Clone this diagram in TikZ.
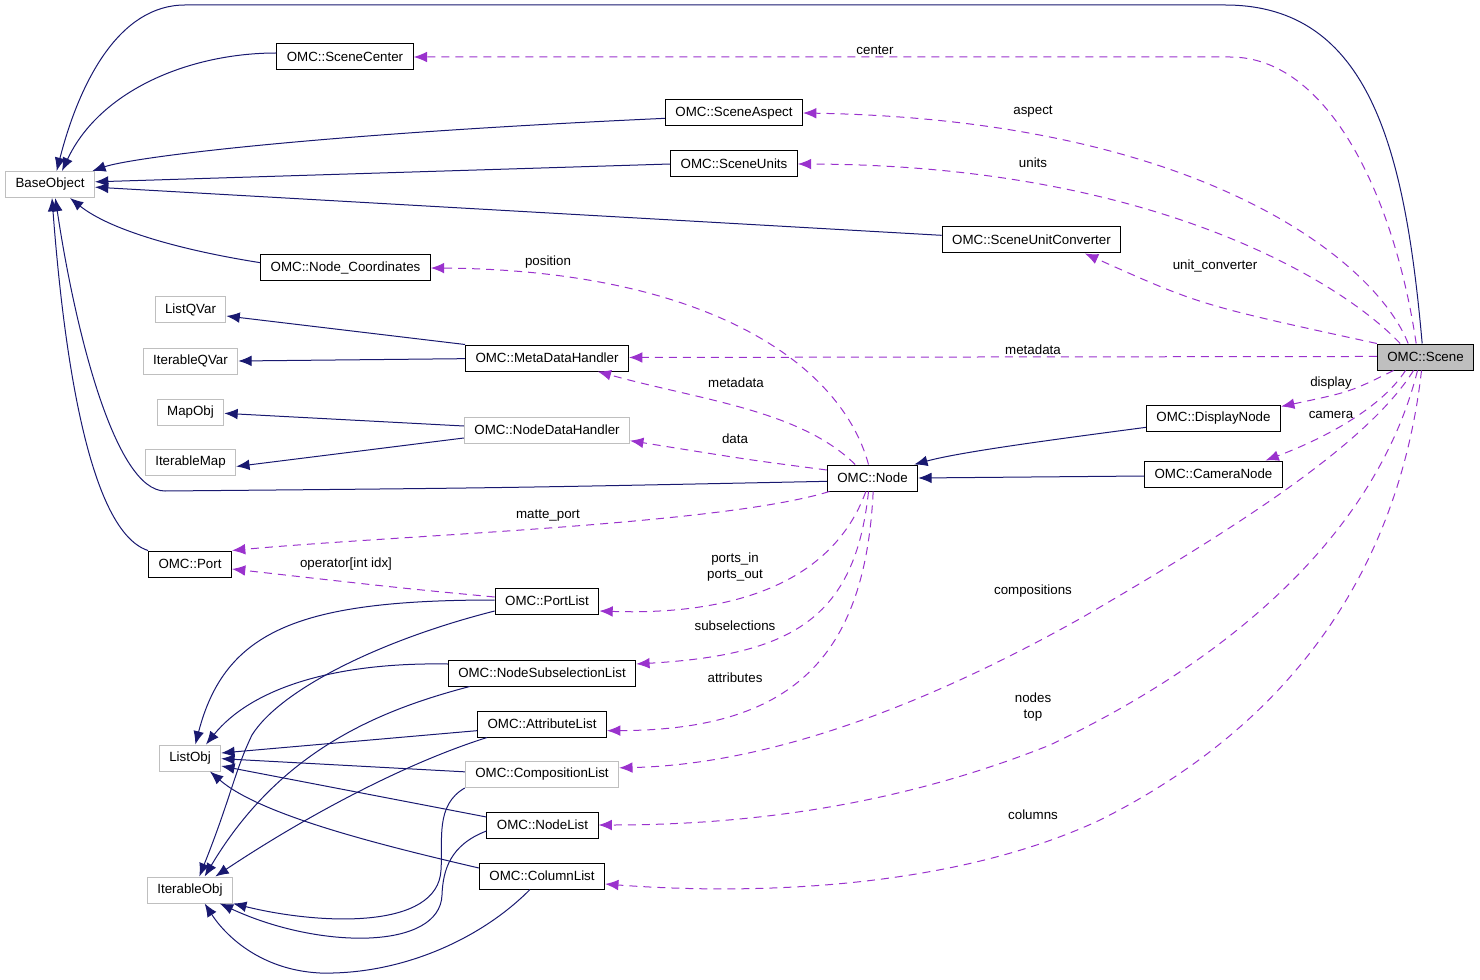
\documentclass[tikz,border=0pt]{standalone}
\usepackage{fontspec}
\setmainfont{Liberation Sans}
\usepackage{tikz}
\usetikzlibrary{positioning, arrows.meta}
\definecolor{inhcol}{RGB}{25,25,112}
\definecolor{usecol}{RGB}{154,50,205}
\definecolor{extcol}{RGB}{191,191,191}

\begin{document}
\begin{tikzpicture}[x=0.75pt, y=-0.75pt, font=\fontsize{10}{11.5}\selectfont]

  \tikzstyle{cls}=[draw, line width=0.75pt, fill=white, minimum height=19.5pt, inner xsep=7.5pt, inner ysep=0pt]
  \tikzstyle{ext}=[cls, draw=extcol]
  \tikzstyle{cur}=[cls, fill=extcol]
  \tikzstyle{inh}=[draw=inhcol, line width=0.75pt, -{Latex[length=10pt,width=8pt]}]
  \tikzstyle{use}=[draw=usecol, line width=0.75pt, dash pattern=on 6pt off 4.5pt, -{Latex[length=10pt,width=8pt]}]
  \tikzstyle{lbl}=[inner sep=0pt, align=center]

  \useasboundingbox (0,0) rectangle (1480,980);

  \node [ext] (base) at (50,184.5) {BaseObject};
  \node [cls] (center) at (345,57) {OMC::SceneCenter};
  \node [cls] (aspect) at (734,113) {OMC::SceneAspect};
  \node [cls] (units) at (734,164) {OMC::SceneUnits};
  \node [cls] (conv) at (1031.5,240) {OMC::SceneUnitConverter};
  \node [cls] (coords) at (345.5,268) {OMC::Node\_Coordinates};
  \node [ext] (listqvar) at (190.5,310) {ListQVar};
  \node [ext] (iterqvar) at (190.5,361) {IterableQVar};
  \node [cls] (metadata) at (547,358) {OMC::MetaDataHandler};
  \node [ext] (mapobj) at (190.5,412) {MapObj};
  \node [ext] (datahandler) at (547,430) {OMC::NodeDataHandler};
  \node [ext] (itermap) at (190.5,462.5) {IterableMap};
  \node [cls] (omcnode) at (872.5,478) {OMC::Node};
  \node [cur] (scene) at (1425.5,357) {OMC::Scene};
  \node [cls] (display) at (1213.5,418) {OMC::DisplayNode};
  \node [cls] (camera) at (1213.5,474) {OMC::CameraNode};
  \node [cls] (port) at (190,564) {OMC::Port};
  \node [cls] (portlist) at (547,601) {OMC::PortList};
  \node [cls] (subsel) at (542,673) {OMC::NodeSubselectionList};
  \node [cls] (attrlist) at (542,724) {OMC::AttributeList};
  \node [ext] (listobj) at (190,758) {ListObj};
  \node [ext] (complist) at (542,774.5) {OMC::CompositionList};
  \node [cls] (nodelist) at (542.5,825) {OMC::NodeList};
  \node [cls] (collist) at (542,876) {OMC::ColumnList};
  \node [ext] (iterobj) at (190,890) {IterableObj};

  % inheritance
  \draw [inh] ([xshift=-2.5pt]scene.north) .. controls (1405,150) and (1370,5) .. (1225,5) -- (185,5) .. controls (120,5) and (80,80) .. ([xshift=5pt]base.north);
  \draw [inh] ([yshift=3pt]center.west) .. controls (190,53) and (100,90) .. ([xshift=9pt]base.north);
  \draw [inh] ([yshift=-4pt]aspect.west) .. controls (300,135) and (130,158) .. ([xshift=-2pt]base.north east);
  \draw [inh] (units.west) -- ([yshift=2pt]base.east);
  \draw [inh] ([yshift=3.5pt]conv.west) -- ([yshift=-2pt]base.east);
  \draw [inh] ([yshift=4pt]coords.west) .. controls (180,250) and (110,230) .. ([xshift=15pt]base.south);
  \draw [inh] ([yshift=-2.5pt]omcnode.west) .. controls (500,488) .. (165,491) .. controls (115,491) and (75,330) .. ([xshift=4pt]base.south);
  \draw [inh] (port.north west) .. controls (85,530) and (62,330) .. ([xshift=1.5pt]base.south);
  \draw [inh] (metadata.north west) -- ([yshift=-4.5pt]listqvar.east);
  \draw [inh] ([yshift=-0.5pt]metadata.west) -- (iterqvar.east);
  \draw [inh] ([yshift=3pt]datahandler.west) -- ([yshift=-1pt]mapobj.east);
  \draw [inh] ([yshift=-6pt]datahandler.west) -- ([yshift=-3pt]itermap.east);
  \draw [inh] ([yshift=-7pt]display.west) .. controls (1050,440) and (960,452) .. ([xshift=-3pt]omcnode.north east);
  \draw [inh] ([yshift=-1.5pt]camera.west) -- (omcnode.east);

  \draw [inh] ([yshift=0.75pt]portlist.west) .. controls (300,600) and (225,630) .. ([xshift=4pt]listobj.north);
  \draw [inh] ([yshift=-7.5pt]portlist.west) .. controls (380,640) and (280,690) .. (252,735) .. controls (235,770) and (230,800) .. ([xshift=7pt]iterobj.north);
  \draw [inh] ([yshift=6.75pt]subsel.west) .. controls (330,662) and (250,690) .. ([xshift=12pt]listobj.north);
  \draw [inh] ([xshift=16.5pt]subsel.south west) .. controls (380,710) and (280,750) .. ([xshift=11pt]iterobj.north);
  \draw [inh] ([yshift=-5pt]attrlist.west) -- ([yshift=3.75pt]listobj.east);
  \draw [inh] ([xshift=7.5pt]attrlist.south west) .. controls (400,765) and (300,820) .. ([xshift=19pt]iterobj.north);
  \draw [inh] ([yshift=2pt]complist.west) -- ([yshift=-0.5pt]listobj.east);
  \draw [inh] (complist.south west) .. controls (435,805) and (443,840) .. (441,870) .. controls (438,930) and (320,925) .. (iterobj.south east);
  \draw [inh] ([yshift=6pt]nodelist.west) -- ([yshift=-6pt]listobj.east);
  \draw [inh] ([yshift=-4.5pt]nodelist.west) .. controls (450,845) and (443,870) .. (442,895) .. controls (440,950) and (320,950) .. ([xshift=-10pt]iterobj.south east);
  \draw [inh] ([yshift=6pt]collist.west) .. controls (380,845) and (260,815) .. ([xshift=15pt]listobj.south);
  \draw [inh] ([xshift=-9pt]collist.south) .. controls (480,940) and (400,975) .. (320,973) .. controls (260,970) and (225,935) .. ([xshift=11pt]iterobj.south);

  % members
  \draw [use] ([xshift=-7pt]scene.north) .. controls (1395,200) and (1330,57) .. (1230,57) -- (center.east);
  \draw [use] ([xshift=-13pt]scene.north) .. controls (1375,260) and (1200,120) .. (aspect.east);
  \draw [use] ([xshift=-19pt]scene.north) .. controls (1340,280) and (1150,165) .. (units.east);
  \draw [use] (scene.north west) .. controls (1200,305) .. ([xshift=40pt]conv.south);
  \draw [use] ([yshift=0.4pt]scene.west) -- ([yshift=0.4pt]metadata.east);
  \draw [use] ([xshift=-24pt]scene.south) .. controls (1350,392) .. ([yshift=-1.5pt]display.north east);
  \draw [use] ([xshift=-15pt]scene.south) .. controls (1380,410) and (1320,440) .. ([xshift=39pt]camera.north);
  \draw [use] ([xshift=-9pt]scene.south) .. controls (1370,440) and (1250,520) .. (1083,617) .. controls (900,720) and (750,765) .. ([yshift=5pt]complist.east);
  \draw [use] ([xshift=-6pt]scene.south) .. controls (1380,520) and (1250,650) .. (1050,745) .. controls (900,805) and (750,825) .. (nodelist.east);
  \draw [use] ([xshift=-3pt]scene.south) .. controls (1400,560) and (1300,720) .. (1100,820) .. controls (950,890) and (750,895) .. ([yshift=-6pt]collist.east);

  \draw [use] ([xshift=-3pt]omcnode.north) .. controls (840,360) and (700,270) .. (coords.east);
  \draw [use] ([xshift=-13pt]omcnode.north) .. controls (800,410) and (700,400) .. ([xshift=38pt]metadata.south);
  \draw [use] ([yshift=6pt]omcnode.west) .. controls (750,460) .. ([yshift=-8pt]datahandler.east);
  \draw [use] ([xshift=2pt]omcnode.south west) .. controls (720,525) and (400,535) .. (port.north east);
  \draw [use] ([yshift=3pt]portlist.west) .. controls (400,588) .. ([yshift=-3.75pt]port.east);
  \draw [use] ([xshift=-5pt]omcnode.south) .. controls (830,590) and (720,615) .. ([yshift=-7.5pt]portlist.east);
  \draw [use] ([xshift=-3pt]omcnode.south) .. controls (855,620) and (790,655) .. ([yshift=6.75pt]subsel.east);
  \draw [use] ([xshift=0.5pt]omcnode.south) .. controls (865,660) and (790,730) .. ([yshift=-5pt]attrlist.east);

  \node [lbl] (l-center) at (875,50) {center};
  \node [lbl] (l-aspect) at (1033,112) {aspect};
  \node [lbl] (l-units) at (1033,163) {units};
  \node [lbl] (l-conv) at (1215,266) {unit\_converter};
  \node [lbl] (l-position) at (548,262) {position};
  \node [lbl] (l-scenemeta) at (1033,350) {metadata};
  \node [lbl] (l-nodemeta) at (736,383) {metadata};
  \node [lbl] (l-data) at (735,439) {data};
  \node [lbl] (l-matte) at (548,516) {matte\_port};
  \node [lbl] (l-operator) at (346,564) {operator[int idx]};
  \node [lbl] (l-ports) at (735,567) {ports\_in\\ports\_out};
  \node [lbl] (l-subsel) at (735,626) {subselections};
  \node [lbl] (l-attr) at (735,678) {attributes};
  \node [lbl] (l-display) at (1331,383) {display};
  \node [lbl] (l-camera) at (1331,415) {camera};
  \node [lbl] (l-comp) at (1033,591) {compositions};
  \node [lbl] (l-nodes) at (1033,707) {nodes\\top};
  \node [lbl] (l-columns) at (1033,815) {columns};

\end{tikzpicture}
\end{document}
